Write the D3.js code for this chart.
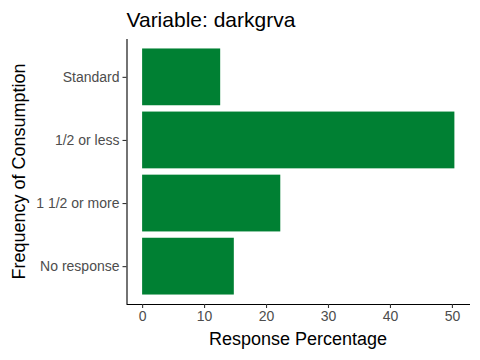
<!DOCTYPE html>
<html><head><meta charset="utf-8">
<script src="https://cdn.jsdelivr.net/npm/d3@7/dist/d3.min.js"></script>
<style>body{margin:0;background:#fff}svg{display:block}text{font-family:"Liberation Sans",Arial,sans-serif}</style>
</head><body>
<svg id="c" width="480" height="360"></svg>
<script>
const categories = ["Standard", "1/2 or less", "1 1/2 or more", "No response"];
const values = [12.6, 50.4, 22.3, 14.8];
const xTicks = [0, 10, 20, 30, 40, 50];
const title = "Variable: darkgrva";

const svg = d3.select("#c");
const L = 126.5, R = 470, T = 39, B = 304;
const vmax = d3.max(values);
const x = d3.scaleLinear().domain([-0.05*vmax, vmax*1.05]).range([L, R]);
const n = categories.length;
const unit = (B - T) / (n - 1 + 1.2);
const y = d3.scalePoint().domain(categories).range([T + 0.6*unit, B - 0.6*unit]);
const bw = unit * 0.9;

svg.selectAll("rect.bar").data(categories).join("rect")
  .attr("class","bar")
  .attr("x", x(0)).attr("y", d => y(d) - bw/2)
  .attr("width", (d,i) => x(values[i]) - x(0)).attr("height", bw)
  .attr("fill", "#008033");

const xa = svg.append("g").attr("transform", `translate(0,${B})`)
  .call(d3.axisBottom(x).tickValues(xTicks).tickSize(4).tickPadding(3).tickSizeOuter(0));
const ya = svg.append("g").attr("transform", `translate(${L},0)`)
  .call(d3.axisLeft(y).tickSize(4).tickPadding(3).tickSizeOuter(0));
[xa, ya].forEach(a => {
  a.select(".domain").attr("stroke", "#000").attr("stroke-width", 1.1);
  a.selectAll(".tick line").attr("stroke", "#333").attr("stroke-width", 1.1);
  a.selectAll(".tick text").attr("fill", "#4D4D4D").style("font-size", "14px");
});
xa.select(".domain").attr("d", `M${L},0.5H${R}`);
ya.select(".domain").attr("d", `M0.5,${T}V${B}`);

svg.append("text").attr("x", L).attr("y", 27).style("font-size", "21px").attr("fill", "#000").text(title);
svg.append("text").attr("x", 298).attr("y", 345).attr("text-anchor","middle").style("font-size","18px").attr("fill","#000").text("Response Percentage");
svg.append("text").attr("transform", `translate(25,${(T+B)/2}) rotate(-90)`).attr("text-anchor","middle").style("font-size","18px").attr("fill","#000").text("Frequency of Consumption");
</script>
</body></html>
